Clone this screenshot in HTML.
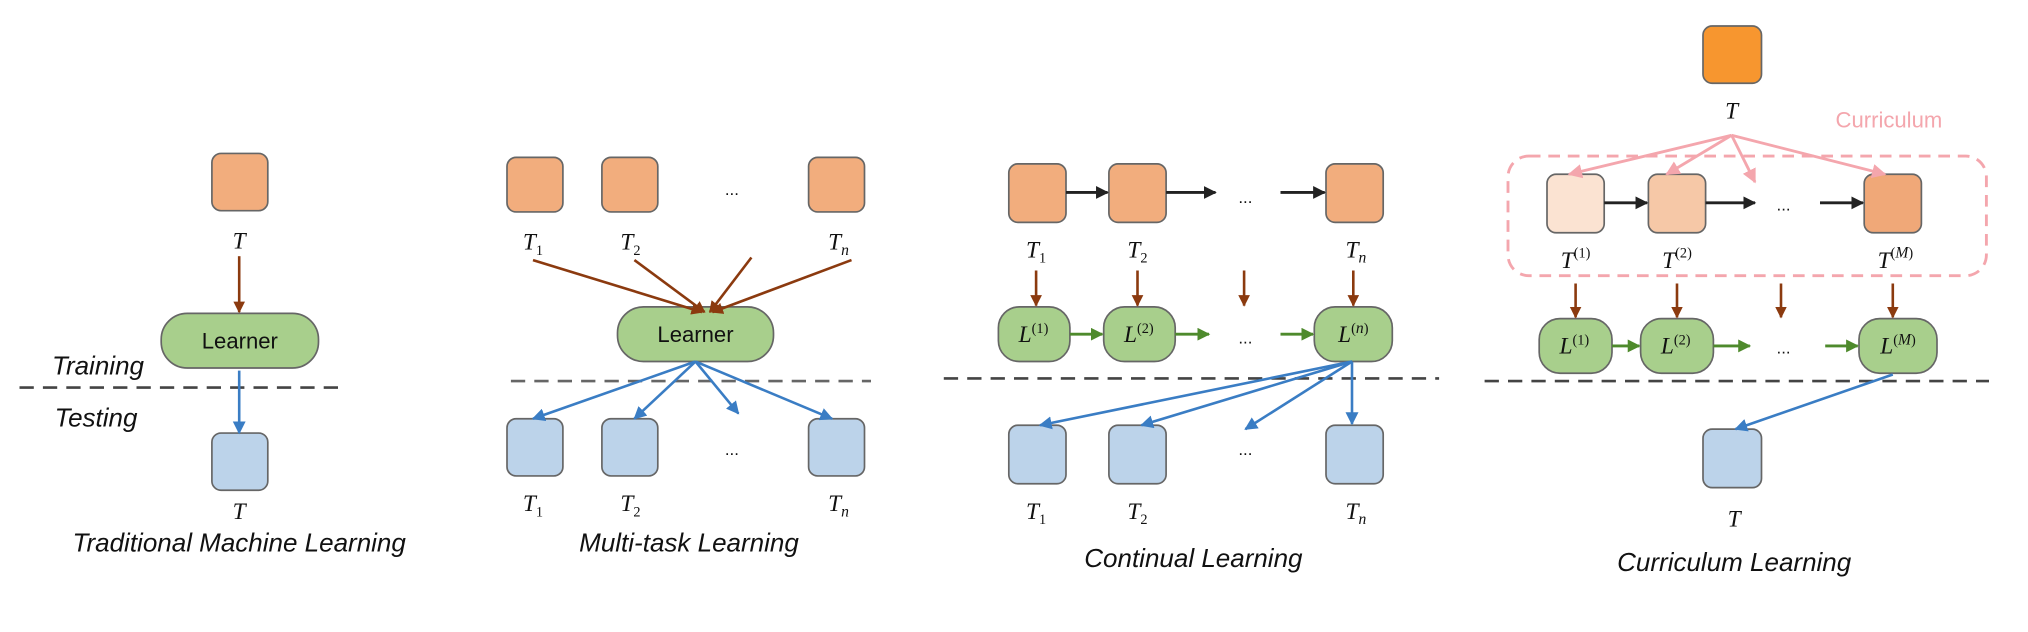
<!DOCTYPE html>
<html><head><meta charset="utf-8"><style>
html,body{margin:0;padding:0;background:#fff;width:2028px;height:632px;overflow:hidden}
svg{display:block}
.t{font-family:"Liberation Sans",sans-serif;font-style:italic;font-size:20px;fill:#111}
.m{font-family:"Liberation Serif",serif;font-style:italic;font-size:18px;fill:#111}
.s{font-family:"Liberation Serif",serif;font-style:normal;font-size:11px}
.si{font-family:"Liberation Serif",serif;font-style:italic;font-size:12px}
.n{font-family:"Liberation Sans",sans-serif;font-size:17px;fill:#111}
.d{font-family:"Liberation Sans",sans-serif;font-size:13px;fill:#111}
</style></head><body>
<svg width="2028" height="632" viewBox="0 0 1560 486" preserveAspectRatio="none" xmlns="http://www.w3.org/2000/svg">
<defs>
<marker id="ab" viewBox="0 0 10 10" refX="9" refY="5" markerWidth="4.5" markerHeight="4.5" orient="auto"><path d="M0,0L10,5L0,10z" fill="#8b3a0f"/></marker>
<marker id="abl" viewBox="0 0 10 10" refX="9" refY="5" markerWidth="5" markerHeight="5" orient="auto"><path d="M0,0L10,5L0,10z" fill="#3a7dc4"/></marker>
<marker id="ak" viewBox="0 0 10 10" refX="9" refY="5" markerWidth="4.5" markerHeight="4.5" orient="auto"><path d="M0,0L10,5L0,10z" fill="#222"/></marker>
<marker id="ag" viewBox="0 0 10 10" refX="9" refY="5" markerWidth="4.5" markerHeight="4.5" orient="auto"><path d="M0,0L10,5L0,10z" fill="#4e8a2c"/></marker>
<marker id="ap" viewBox="0 0 10 10" refX="9" refY="5" markerWidth="5" markerHeight="5" orient="auto"><path d="M0,0L10,5L0,10z" fill="#f4a6ad"/></marker>
</defs>
<g stroke="#666" stroke-width="1.3">
<rect x="163" y="118" width="43" height="44" rx="7" fill="#f2ad7d"/>
<rect x="124" y="241" width="121" height="42" rx="20" fill="#a8cf8c"/>
<rect x="163" y="333" width="43" height="44" rx="7" fill="#bcd3ea"/>
<rect x="390" y="121" width="43" height="42" rx="7" fill="#f2ad7d"/>
<rect x="463" y="121" width="43" height="42" rx="7" fill="#f2ad7d"/>
<rect x="622" y="121" width="43" height="42" rx="7" fill="#f2ad7d"/>
<rect x="475" y="236" width="120" height="42" rx="20" fill="#a8cf8c"/>
<rect x="390" y="322" width="43" height="44" rx="7" fill="#bcd3ea"/>
<rect x="463" y="322" width="43" height="44" rx="7" fill="#bcd3ea"/>
<rect x="622" y="322" width="43" height="44" rx="7" fill="#bcd3ea"/>
<rect x="776" y="126" width="44" height="45" rx="7" fill="#f2ad7d"/>
<rect x="853" y="126" width="44" height="45" rx="7" fill="#f2ad7d"/>
<rect x="1020" y="126" width="44" height="45" rx="7" fill="#f2ad7d"/>
<rect x="768" y="236" width="55" height="42" rx="16" fill="#a8cf8c"/>
<rect x="849" y="236" width="55" height="42" rx="16" fill="#a8cf8c"/>
<rect x="1011" y="236" width="60" height="42" rx="16" fill="#a8cf8c"/>
<rect x="776" y="327" width="44" height="45" rx="7" fill="#bcd3ea"/>
<rect x="853" y="327" width="44" height="45" rx="7" fill="#bcd3ea"/>
<rect x="1020" y="327" width="44" height="45" rx="7" fill="#bcd3ea"/>
<rect x="1310" y="20" width="45" height="44" rx="7" fill="#f7962f"/>
<rect x="1190" y="134" width="44" height="45" rx="7" fill="#fbe3d2"/>
<rect x="1268" y="134" width="44" height="45" rx="7" fill="#f6c8a7"/>
<rect x="1434" y="134" width="44" height="45" rx="7" fill="#f0a878"/>
<rect x="1184" y="245" width="56" height="42" rx="16" fill="#a8cf8c"/>
<rect x="1262" y="245" width="56" height="42" rx="16" fill="#a8cf8c"/>
<rect x="1430" y="245" width="60" height="42" rx="16" fill="#a8cf8c"/>
<rect x="1310" y="330" width="45" height="45" rx="7" fill="#bcd3ea"/>
</g>
<rect x="1160" y="120" width="368" height="92" rx="16" fill="none" stroke="#f4a6ad" stroke-width="2.2" stroke-dasharray="9,6"/>
<g stroke="#444" stroke-width="2" stroke-dasharray="11,7">
<line x1="15" y1="298" x2="262" y2="298"/>
<line x1="393" y1="293" x2="670" y2="293" stroke="#666"/>
<line x1="726" y1="291" x2="1107" y2="291"/>
<line x1="1142" y1="293" x2="1530" y2="293"/>
</g>
<g stroke="#8b3a0f" stroke-width="2" fill="none" marker-end="url(#ab)">
<line x1="184" y1="197" x2="184" y2="240"/>
<line x1="410" y1="200" x2="540" y2="240"/>
<line x1="488" y1="200" x2="542" y2="240"/>
<line x1="578" y1="198" x2="546" y2="240"/>
<line x1="655" y1="200" x2="548" y2="240"/>
<line x1="797" y1="208" x2="797" y2="235"/>
<line x1="875" y1="208" x2="875" y2="235"/>
<line x1="957" y1="208" x2="957" y2="235"/>
<line x1="1041" y1="208" x2="1041" y2="235"/>
<line x1="1212" y1="218" x2="1212" y2="244"/>
<line x1="1290" y1="218" x2="1290" y2="244"/>
<line x1="1370" y1="218" x2="1370" y2="244"/>
<line x1="1456" y1="218" x2="1456" y2="244"/>
</g>
<g stroke="#3a7dc4" stroke-width="2" fill="none" marker-end="url(#abl)">
<line x1="184" y1="285" x2="184" y2="333"/>
<line x1="535" y1="278" x2="410" y2="322"/>
<line x1="535" y1="278" x2="488" y2="322"/>
<line x1="535" y1="278" x2="568" y2="318"/>
<line x1="535" y1="278" x2="640" y2="322"/>
<line x1="1040" y1="278" x2="800" y2="327"/>
<line x1="1040" y1="278" x2="878" y2="327"/>
<line x1="1040" y1="278" x2="958" y2="330"/>
<line x1="1040" y1="278" x2="1040" y2="326"/>
<line x1="1456" y1="288" x2="1335" y2="330"/>
</g>
<g stroke="#222" stroke-width="2.2" marker-end="url(#ak)">
<line x1="820" y1="148" x2="852" y2="148"/>
<line x1="897" y1="148" x2="935" y2="148"/>
<line x1="985" y1="148" x2="1019" y2="148"/>
<line x1="1234" y1="156" x2="1267" y2="156"/>
<line x1="1312" y1="156" x2="1350" y2="156"/>
<line x1="1400" y1="156" x2="1433" y2="156"/>
</g>
<g stroke="#4e8a2c" stroke-width="2.2" marker-end="url(#ag)">
<line x1="823" y1="257" x2="848" y2="257"/>
<line x1="904" y1="257" x2="930" y2="257"/>
<line x1="985" y1="257" x2="1010" y2="257"/>
<line x1="1240" y1="266" x2="1261" y2="266"/>
<line x1="1318" y1="266" x2="1346" y2="266"/>
<line x1="1404" y1="266" x2="1429" y2="266"/>
</g>
<g stroke="#f4a6ad" stroke-width="2.2" fill="none" marker-end="url(#ap)">
<line x1="1332" y1="104" x2="1207" y2="134"/>
<line x1="1332" y1="104" x2="1282" y2="134"/>
<line x1="1332" y1="104" x2="1350" y2="140"/>
<line x1="1332" y1="104" x2="1450" y2="134"/>
</g>
<text class="n" x="184.5" y="268" text-anchor="middle">Learner</text>
<text class="n" x="535" y="263" text-anchor="middle">Learner</text>
<text class="t" x="40" y="288" font-size="16">Training</text>
<text class="t" x="42" y="328" font-size="16">Testing</text>
<text class="m" x="184" y="191" text-anchor="middle">T</text>
<text class="m" x="184" y="399" text-anchor="middle">T</text>
<text class="t" x="184" y="424" text-anchor="middle">Traditional Machine Learning</text>
<g class="m" text-anchor="middle">
<text x="410" y="192">T<tspan class="s" dy="4">1</tspan></text>
<text x="485" y="192">T<tspan class="s" dy="4">2</tspan></text>
<text x="645" y="192">T<tspan class="si" dy="4">n</tspan></text>
<text x="410" y="393">T<tspan class="s" dy="4">1</tspan></text>
<text x="485" y="393">T<tspan class="s" dy="4">2</tspan></text>
<text x="645" y="393">T<tspan class="si" dy="4">n</tspan></text>
<text x="797" y="198">T<tspan class="s" dy="4">1</tspan></text>
<text x="875" y="198">T<tspan class="s" dy="4">2</tspan></text>
<text x="1043" y="198">T<tspan class="si" dy="4">n</tspan></text>
<text x="797" y="399">T<tspan class="s" dy="4">1</tspan></text>
<text x="875" y="399">T<tspan class="s" dy="4">2</tspan></text>
<text x="1043" y="399">T<tspan class="si" dy="4">n</tspan></text>
<text x="795" y="263">L<tspan class="s" dy="-7">(1)</tspan></text>
<text x="876" y="263">L<tspan class="s" dy="-7">(2)</tspan></text>
<text x="1041" y="263">L<tspan class="s" dy="-7">(</tspan><tspan class="si">n</tspan><tspan class="s">)</tspan></text>
<text x="1211" y="272">L<tspan class="s" dy="-7">(1)</tspan></text>
<text x="1289" y="272">L<tspan class="s" dy="-7">(2)</tspan></text>
<text x="1460" y="272">L<tspan class="s" dy="-7">(</tspan><tspan class="si">M</tspan><tspan class="s">)</tspan></text>
<text x="1212" y="206">T<tspan class="s" dy="-8">(1)</tspan></text>
<text x="1290" y="206">T<tspan class="s" dy="-8">(2)</tspan></text>
<text x="1458" y="206">T<tspan class="s" dy="-8">(</tspan><tspan class="si">M</tspan><tspan class="s">)</tspan></text>
<text x="1332" y="91">T</text>
<text x="1334" y="405">T</text>
</g>
<text class="t" x="530" y="424" text-anchor="middle">Multi-task Learning</text>
<text class="t" x="918" y="436" text-anchor="middle">Continual Learning</text>
<text class="t" x="1334" y="439" text-anchor="middle">Curriculum Learning</text>
<text x="1453" y="98" text-anchor="middle" font-family="Liberation Sans,sans-serif" font-size="17" fill="#f4a6ad">Curriculum</text>
<g class="d" text-anchor="middle">
<text x="563" y="150">...</text><text x="563" y="350">...</text>
<text x="958" y="156">...</text><text x="958" y="264">...</text><text x="958" y="350">...</text>
<text x="1372" y="162">...</text><text x="1372" y="272">...</text>
</g>
</svg>
</body></html>
